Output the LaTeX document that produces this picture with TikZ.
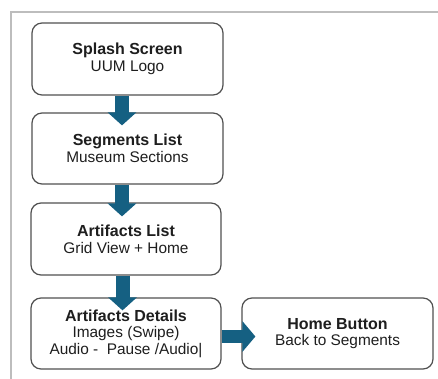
\documentclass[tikz,border=0pt]{standalone}
\usepackage{fontspec}
\setmainfont{Liberation Sans}
\usetikzlibrary{arrows.meta}
\definecolor{flowblue}{HTML}{156082}
\definecolor{boxline}{HTML}{505050}
\definecolor{framegray}{HTML}{BDBDBD}
\definecolor{txt}{HTML}{1E1E1E}
\newcommand{\ttl}[1]{{\fontsize{16}{16.6}\selectfont\bfseries #1}}
\tikzset{
  screen/.style={draw=boxline, line width=1.2pt, rounded corners=10pt,
    fill=white, align=center, text=txt, inner sep=0pt,
    font=\fontsize{15.4}{16.6}\selectfont},
  flow/.style={draw=flowblue, line width=14pt,
    -{Triangle[length=13pt,width=28pt]}},
}
\begin{document}
\begin{tikzpicture}[x=1pt,y=-1pt]
  \useasboundingbox (0,0) rectangle (438,379);
  \fill[white] (0,0) rectangle (438,379);
  % outer frame
  \draw[framegray, line width=1.6pt] (10.9,379) -- (10.9,11.8) -- (438,11.8);

  % screens
  \node[screen, minimum width=191pt, minimum height=72pt] (splash) at (127.5,59)
    {\ttl{Splash Screen}\\UUM Logo};
  \node[screen, minimum width=191pt, minimum height=71pt] (segments) at (127.5,148.5)
    {\ttl{Segments List}\\Museum Sections};
  \node[screen, minimum width=190pt, minimum height=72pt] (artlist) at (126,239)
    {\ttl{Artifacts List}\\Grid View + Home};
  \node[screen, minimum width=190pt, minimum height=71pt] (details) at (126,333.5)
    {\ttl{Artifacts Details}\\Images (Swipe)\\Audio -\ \ Pause /Audio|};
  \node[screen, minimum width=191pt, minimum height=71pt] (home) at (337.5,333.5)
    {\ttl{Home Button}\\Back to Segments};

  % flow arrows
  \draw[flow] ([xshift=-5.5pt]splash.south) -- ([xshift=-5.5pt,yshift=-13pt]segments.north);
  \draw[flow] ([xshift=-5.5pt]segments.south) -- ([xshift=-4pt,yshift=-14pt]artlist.north);
  \draw[flow] ([xshift=-3.5pt]artlist.south) -- ([xshift=-3.5pt,yshift=-13pt]details.north);
  \draw[flow, line width=13pt, -{Triangle[length=13pt,width=30pt]}]
    ([yshift=-3pt]details.east) -- ([xshift=14pt,yshift=-3pt]home.west);
\end{tikzpicture}
\end{document}
